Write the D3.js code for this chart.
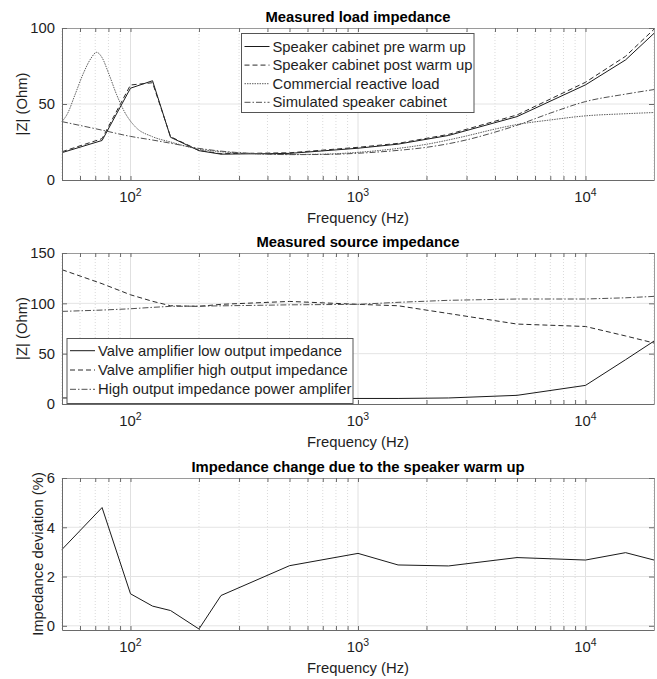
<!DOCTYPE html>
<html>
<head>
<meta charset="utf-8">
<script src="https://cdn.jsdelivr.net/npm/d3@7"></script>
<style>
  body { margin: 0; background: #fff; }
  svg { display: block; font-family: "Liberation Sans", Arial, sans-serif; }
</style>
</head>
<body>
<svg id="chart" width="657" height="679"></svg>
<script>
// measurement frequencies (Hz)
const freqMeas = [50, 75, 100, 125, 150, 200, 250, 500, 1000, 1500, 2500, 5000, 10000, 15000, 20000];

// load impedance (Ohm)
const preWarm  = [18.0, 26.0, 60.4, 65.3, 28.1, 19.3, 17.0, 17.5, 20.9, 23.6, 29.3, 41.7, 62.6, 79.0, 96.5];
const postWarm = [18.6, 27.2, 62.5, 64.0, 28.5, 19.5, 17.3, 17.9, 21.5, 24.1, 30.0, 42.8, 64.3, 81.4, 99.2];

const freqCommercial = [50, 53, 57, 62, 67, 71, 75, 80, 87, 94, 105, 125, 150, 200, 250, 300, 400, 500, 700,
                        1000, 1500, 2000, 3000, 4000, 5000, 7000, 10000, 15000, 20000];
const commercialLoad = [38.4, 44, 56, 70, 80, 84, 80.5, 70.5, 56, 45, 35, 28.5, 25, 20.3, 18.6, 17.8, 17.0, 16.8, 17.0,
                        18.2, 20.8, 23.5, 29.0, 33.5, 36.5, 39.5, 42.2, 43.6, 44.4];

const freqSimulated = [50, 75, 100, 125, 150, 200, 250, 300, 400, 500, 700, 1000, 1500, 2000, 3000, 4000, 5000,
                       7000, 10000, 15000, 20000];
const simulatedCab  = [38.4, 32.8, 28.7, 26.3, 24.2, 20.8, 19.0, 18.0, 17.0, 16.7, 16.8, 17.6, 19.5, 21.5, 26.4,
                       31.5, 36.0, 44.0, 51.6, 56.5, 59.5];

// source impedance (Ohm)
const valveLow  = [6.0, 6.0, 5.5, 6.0, 5.5, 4.5, 5.0, 5.5, 5.5, 5.5, 6.0, 8.6, 18.5, 44.0, 62.5];
const valveHigh = [133.4, 119.5, 108.5, 102.0, 97.6, 97.0, 99.0, 101.9, 99.0, 97.6, 89.9, 79.4, 77.0, 67.6, 60.6];
const powerAmp  = [92.0, 93.3, 94.6, 96.0, 97.0, 97.2, 97.5, 98.5, 99.0, 101.0, 103.0, 104.3, 104.3, 105.5, 106.9];

// impedance deviation (%)
const deviation = [3.1, 4.8, 1.3, 0.8, 0.62, -0.13, 1.23, 2.44, 2.94, 2.47, 2.43, 2.77, 2.67, 2.97, 2.67];

const xMajor = [100, 1000, 10000];
const loadNames = ["Speaker cabinet pre warm up", "Speaker cabinet post warm up",
                   "Commercial reactive load", "Simulated speaker cabinet"];
const sourceNames = ["Valve amplifier low output impedance", "Valve amplifier high output impedance",
                     "High output impedance power amplifer"];

const width = 657;
const fontSize = 14.8;
const axisColor = "#6a6a6a";
const textColor = "#1e1e1e";

const svg = d3.select("#chart");

const x = d3.scaleLog()
    .domain([50, 20000])
    .range([62, 654]);

const allTicks = x.ticks();
const isMajor = d => Math.abs(Math.log10(d) - Math.round(Math.log10(d))) < 1e-9;

const styles = {
    solid:   {stroke: "#1a1a1a", dash: null},
    dashed:  {stroke: "#2a2a2a", dash: "5,3"},
    dotted:  {stroke: "#5e5e5e", dash: "1.5,1"},
    dashdot: {stroke: "#505050", dash: "6,2,1.5,2"}
};

function drawPanel(cfg) {
    const y = d3.scaleLinear()
        .domain(cfg.yDomain)
        .range([cfg.bottom, cfg.top]);

    const g = svg.append("g");

    // grid
    g.append("g").selectAll("line")
        .data(allTicks)
        .join("line")
            .attr("x1", d => x(d)).attr("x2", d => x(d))
            .attr("y1", cfg.top).attr("y2", cfg.bottom)
            .attr("stroke", d => isMajor(d) ? "#e0e0e0" : "#dadada")
            .attr("stroke-dasharray", d => isMajor(d) ? null : "1,2");

    g.append("g").selectAll("line")
        .data(cfg.yTicks.filter(d => y(d) > cfg.top + 1 && y(d) < cfg.bottom - 1))
        .join("line")
            .attr("x1", x.range()[0]).attr("x2", x.range()[1])
            .attr("y1", d => y(d)).attr("y2", d => y(d))
            .attr("stroke", "#e4e4e4");

    // series
    const line = d3.line()
        .x(d => x(d[0]))
        .y(d => y(d[1]));

    cfg.series.forEach(s => {
        line.curve(s.smooth ? d3.curveMonotoneX : d3.curveLinear);
        g.append("path")
            .datum(d3.zip(s.freq, s.values))
            .attr("fill", "none")
            .attr("stroke", styles[s.style].stroke)
            .attr("stroke-width", 1)
            .attr("stroke-dasharray", styles[s.style].dash)
            .attr("d", line);
    });

    // axes box (ticks pointing in)
    const bottomAxis = g.append("g")
        .attr("transform", `translate(0,${cfg.bottom})`)
        .call(d3.axisBottom(x).tickValues(allTicks).tickSize(-4).tickSizeOuter(0).tickFormat(""));
    const topAxis = g.append("g")
        .attr("transform", `translate(0,${cfg.top})`)
        .call(d3.axisTop(x).tickValues(allTicks).tickSize(-4).tickSizeOuter(0).tickFormat(""));
    const leftAxis = g.append("g")
        .attr("transform", `translate(${x.range()[0]},0)`)
        .call(d3.axisLeft(y).tickValues(cfg.yTicks).tickSize(-5).tickSizeOuter(0)
            .tickPadding(7).tickFormat(d3.format("d")));
    const rightAxis = g.append("g")
        .attr("transform", `translate(${x.range()[1]},0)`)
        .call(d3.axisRight(y).tickValues(cfg.yTicks).tickSize(-5).tickSizeOuter(0).tickFormat(""));

    [bottomAxis, topAxis, leftAxis, rightAxis].forEach(a => {
        a.select(".domain").attr("stroke", axisColor);
        a.selectAll(".tick line").attr("stroke", axisColor);
    });
    [topAxis, rightAxis].forEach(a => a.select(".domain").attr("stroke", "#9a9a9a"));
    leftAxis.selectAll(".tick text")
        .attr("fill", textColor)
        .style("font-size", fontSize + "px");

    // x tick labels 10^n
    const xl = g.append("g").selectAll("text")
        .data(xMajor)
        .join("text")
            .attr("x", d => x(d))
            .attr("y", cfg.bottom + 22)
            .attr("text-anchor", "middle")
            .attr("fill", textColor)
            .style("font-size", fontSize + "px");
    xl.append("tspan").text("10");
    xl.append("tspan")
        .attr("dy", -6)
        .style("font-size", "10.5px")
        .text(d => Math.round(Math.log10(d)));

    // axis labels and title
    g.append("text")
        .attr("x", 358)
        .attr("y", cfg.bottom + 43)
        .attr("text-anchor", "middle")
        .attr("fill", textColor)
        .style("font-size", fontSize + "px")
        .text("Frequency (Hz)");

    g.append("text")
        .attr("transform", `translate(${cfg.ylabX},${(cfg.top + cfg.bottom) / 2}) rotate(-90)`)
        .attr("text-anchor", "middle")
        .attr("fill", textColor)
        .style("font-size", fontSize + "px")
        .text(cfg.ylabel);

    g.append("text")
        .attr("x", 358)
        .attr("y", cfg.top - 6)
        .attr("text-anchor", "middle")
        .attr("fill", "#000")
        .style("font-size", "14.8px")
        .style("font-weight", "bold")
        .text(cfg.title);

    // legend
    if (cfg.legend) {
        const L = cfg.legend;
        const lg = g.append("g");
        lg.append("rect")
            .attr("x", L.x).attr("y", L.y)
            .attr("width", L.w).attr("height", L.h)
            .attr("fill", "#fff")
            .attr("stroke", "#555");
        const rows = lg.selectAll("g.row")
            .data(cfg.series.map((s, i) => ({name: L.names[i], style: s.style})))
            .join("g")
                .attr("transform", (d, i) => `translate(${L.x},${L.firstRow + i * L.step})`);
        rows.append("line")
            .attr("x1", 3).attr("x2", 28)
            .attr("stroke", d => styles[d.style].stroke)
            .attr("stroke-dasharray", d => styles[d.style].dash);
        rows.append("text")
            .attr("x", 31)
            .attr("dy", "0.35em")
            .attr("fill", textColor)
            .style("font-size", fontSize + "px")
            .text(d => d.name);
    }
    return y;
}

drawPanel({
    top: 28, bottom: 180,
    yDomain: [0, 100], yTicks: [0, 50, 100],
    title: "Measured load impedance",
    ylabel: "|Z| (Ohm)", ylabX: 27,
    series: [
        {freq: freqMeas, values: preWarm, style: "solid"},
        {freq: freqMeas, values: postWarm, style: "dashed"},
        {freq: freqCommercial, values: commercialLoad, style: "dotted", smooth: true},
        {freq: freqSimulated, values: simulatedCab, style: "dashdot", smooth: true}
    ],
    legend: {x: 241.5, y: 33.5, w: 232.5, h: 79, firstRow: 46.5, step: 18.6, names: loadNames}
});

drawPanel({
    top: 253, bottom: 404,
    yDomain: [0, 150], yTicks: [0, 50, 100, 150],
    title: "Measured source impedance",
    ylabel: "|Z| (Ohm)", ylabX: 27,
    series: [
        {freq: freqMeas, values: valveLow, style: "solid"},
        {freq: freqMeas, values: valveHigh, style: "dashed"},
        {freq: freqMeas, values: powerAmp, style: "dashdot"}
    ],
    legend: {x: 67, y: 338.5, w: 286, h: 65, firstRow: 350.7, step: 19.3, names: sourceNames}
});

drawPanel({
    top: 478, bottom: 630,
    yDomain: [-0.17, 6], yTicks: [0, 2, 4, 6],
    title: "Impedance change due to the speaker warm up",
    ylabel: "Impedance deviation (%)", ylabX: 43,
    series: [
        {freq: freqMeas, values: deviation, style: "solid"}
    ]
});
</script>
</body>
</html>
